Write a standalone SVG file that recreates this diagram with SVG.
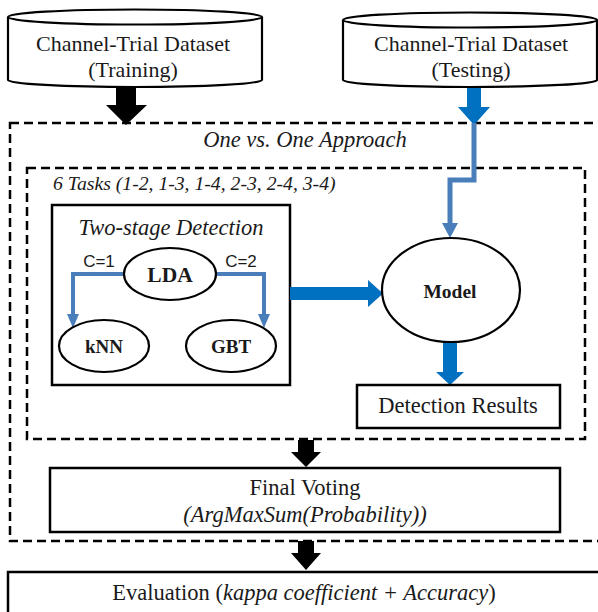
<svg xmlns="http://www.w3.org/2000/svg" width="598" height="612" viewBox="0 0 598 612">
<style>
.t{font-family:"Liberation Serif","Times New Roman",serif;fill:#1a1a1a;}
.i{font-style:italic;}
.b{font-weight:bold;}
.s{font-family:"Liberation Sans",Arial,sans-serif;fill:#1a1a1a;}
.box{fill:#fff;stroke:#000;stroke-width:2.5;}
.ell{fill:#fff;stroke:#000;stroke-width:2.2;}
.dash{fill:none;stroke:#000;stroke-width:2.5;stroke-dasharray:9 5;}
.thin{fill:none;stroke:#4A7EBB;stroke-width:4;}
.blk{fill:#000;}
.blu{fill:#0070C0;}
.lb{fill:#4A7EBB;}
</style>
<rect width="598" height="612" fill="#fff"/>
<g id="outer-box"><rect class="dash" x="10" y="123" width="600" height="418"/>
<text class="t i" x="305" y="147" font-size="22.5" text-anchor="middle">One vs. One Approach</text></g>
<g id="inner-box"><rect class="dash" x="27" y="168" width="558" height="271"/>
<text class="t i" x="53" y="190" font-size="19.7">6 Tasks (1-2, 1-3, 1-4, 2-3, 2-4, 3-4)</text></g>
<g id="training">
<path class="ell" d="M8 17 V80 A127 7 0 0 0 262 80 V17"/>
<ellipse class="ell" cx="135" cy="17" rx="127" ry="7.5"/>
<text class="t" x="133" y="51" font-size="22" text-anchor="middle">Channel-Trial Dataset</text>
<text class="t" x="133" y="77" font-size="22" text-anchor="middle">(Training)</text>
</g>
<g id="testing">
<path class="ell" d="M343 20 V80 A127 7 0 0 0 597 80 V20"/>
<ellipse class="ell" cx="470" cy="20" rx="127" ry="7.5"/>
<text class="t" x="471" y="51" font-size="22" text-anchor="middle">Channel-Trial Dataset</text>
<text class="t" x="471" y="77" font-size="22" text-anchor="middle">(Testing)</text>
</g>
<g id="two-stage"><rect class="box" x="52" y="205" width="238" height="180"/>
<text class="t i" x="171" y="235" font-size="22.5" text-anchor="middle">Two-stage Detection</text></g>
<g id="connectors">
<path class="thin" d="M124 274 H73 V316"/>
<path class="thin" d="M216 274 H264 V316"/>
<polygon class="lb" points="67,314 79,314 73,328"/>
<polygon class="lb" points="258,314 270,314 264,328"/>
<text class="s" x="99" y="267" font-size="17" text-anchor="middle">C=1</text>
<text class="s" x="241" y="267" font-size="17" text-anchor="middle">C=2</text>
<polygon class="blk" points="116,88 136,88 136,105 147,105 126,125 106,105 116,105"/>
<polygon class="blu" points="467,88 481,88 481,107 490,107 474,125 458,107 467,107"/>
<path fill="none" stroke="#4A7EBB" stroke-width="5" d="M474 123 V180 H450 V225"/>
<polygon class="lb" points="442,223 458,223 450,238"/>
<polygon class="blu" points="290,287 368,287 368,280 383,293.5 368,307 368,300 290,300"/>
<polygon class="blu" points="443,342 457,342 457,372 464,372 450,385 436,372 443,372"/>
<polygon class="blk" points="298,440 314,440 314,452 321,452 306,467 291,452 298,452"/>
<polygon class="blk" points="298,541 314,541 314,553 321,553 306,570 291,553 298,553"/>
</g>
<g id="lda"><ellipse class="ell" cx="170" cy="274" rx="46" ry="26"/>
<text class="t b" x="170" y="282" font-size="21.5" text-anchor="middle">LDA</text></g>
<g id="knn"><ellipse class="ell" cx="104" cy="346" rx="45" ry="26"/>
<text class="t b" x="104" y="353" font-size="19" text-anchor="middle">kNN</text></g>
<g id="gbt"><ellipse class="ell" cx="231" cy="346" rx="45" ry="26"/>
<text class="t b" x="231" y="353" font-size="19" text-anchor="middle">GBT</text></g>
<g id="model"><ellipse class="ell" cx="451" cy="290" rx="69" ry="52"/>
<text class="t b" x="450" y="298" font-size="19.5" text-anchor="middle">Model</text></g>
<g id="detection-results"><rect class="box" x="357" y="385" width="203" height="43"/>
<text class="t" x="458" y="413" font-size="22.5" text-anchor="middle">Detection Results</text></g>
<g id="final-voting"><rect class="box" x="50" y="468" width="510" height="64"/>
<text class="t" x="305" y="495" font-size="22.5" text-anchor="middle">Final Voting</text>
<text class="t i" x="305" y="522" font-size="22.5" text-anchor="middle">(ArgMaxSum(Probability))</text></g>
<g id="evaluation"><rect class="box" x="8" y="572" width="600" height="50"/>
<text class="t" x="304" y="600" font-size="22.5" text-anchor="middle">Evaluation (<tspan class="i">kappa coefficient + Accuracy</tspan>)</text></g>
</svg>
